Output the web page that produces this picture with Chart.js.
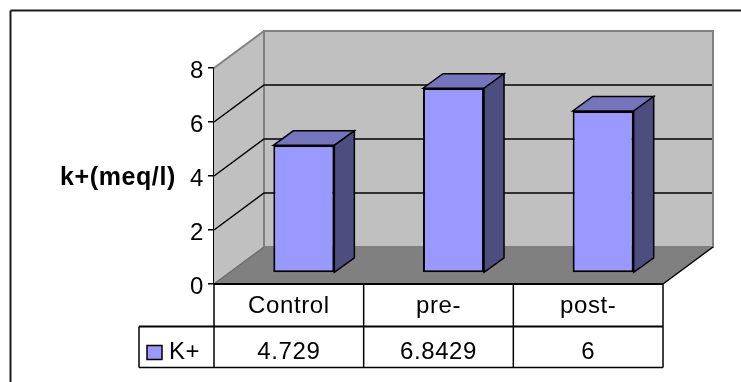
<!DOCTYPE html>
<html>
<head>
<meta charset="utf-8">
<style>
    html, body { margin: 0; padding: 0; background: #fff; overflow: hidden; }
    canvas { display: block; }
</style>
</head>
<body>
<canvas id="chartKalium" width="741" height="382"></canvas>
<script src="https://cdn.jsdelivr.net/npm/chart.js@4"></script>
<script>
const categories = ["Control", "pre-", "post-"];
const seriesName = "K+";
const kValues = [4.729, 6.8429, 6];
const yTicks = [0, 2, 4, 6, 8];
const yTitle = "k+(meq/l)";

const FONT = '"Liberation Sans", Arial, sans-serif';

// 3D box look: depth of the plot, and of the bars inside it
const depth = { x: 50, y: -37 };
const barShift = { x: 15, y: -11 };
const barDepth = { x: 20, y: -14.5 };

function poly(ctx, pts, fill, stroke, width) {
    ctx.beginPath();
    pts.forEach((p, i) => i ? ctx.lineTo(p[0], p[1]) : ctx.moveTo(p[0], p[1]));
    ctx.closePath();
    if (fill) { ctx.fillStyle = fill; ctx.fill(); }
    if (stroke) { ctx.strokeStyle = stroke; ctx.lineWidth = width; ctx.stroke(); }
}

function line(ctx, x1, y1, x2, y2, color, width) {
    ctx.beginPath();
    ctx.moveTo(x1, y1);
    ctx.lineTo(x2, y2);
    ctx.strokeStyle = color;
    ctx.lineWidth = width;
    ctx.stroke();
}

// Walls, floor and gridlines behind the bars
const walls = {
    id: "walls",
    beforeDraw(chart) {
        // text in this chart runs a little wide
        chart.ctx.letterSpacing = "0.6px";
    },
    beforeDatasetsDraw(chart) {
        const ctx = chart.ctx;
        const { left, right, top, bottom } = chart.chartArea;
        const dx = depth.x, dy = depth.y;
        ctx.save();
        poly(ctx, [[left, top], [left + dx, top + dy], [left + dx, bottom + dy], [left, bottom]], "#c0c0c0");
        poly(ctx, [[left + dx, top + dy], [right + dx, top + dy], [right + dx, bottom + dy], [left + dx, bottom + dy]], "#c0c0c0", "#808080", 2);
        poly(ctx, [[left, bottom], [left + dx, bottom + dy], [right + dx, bottom + dy], [right, bottom]], "#808080");
        line(ctx, left, top, left + dx, top + dy, "#808080", 2);
        line(ctx, left, bottom, left + dx, bottom + dy, "#6a6a6a", 1.5);
        yTicks.slice(1, -1).forEach(v => {
            const y = chart.scales.y.getPixelForValue(v);
            ctx.beginPath();
            ctx.moveTo(left, y);
            ctx.lineTo(left + dx, y + dy);
            ctx.lineTo(right + dx - 1, y + dy);
            ctx.strokeStyle = "#000";
            ctx.lineWidth = 1.5;
            ctx.stroke();
        });
        line(ctx, right, bottom, right + dx, bottom + dy, "#000", 1.5);
        ctx.restore();
    }
};

// Bars are moved into the box; top and side faces are added from each bar's element
const barBoxes = {
    id: "barBoxes",
    beforeDatasetDraw(chart) {
        chart.ctx.save();
        chart.ctx.translate(barShift.x, barShift.y);
    },
    afterDatasetDraw(chart, args) {
        const ctx = chart.ctx;
        const dx = barDepth.x, dy = barDepth.y;
        args.meta.data.forEach(bar => {
            const l = bar.x - bar.width / 2, r = bar.x + bar.width / 2;
            poly(ctx, [[l, bar.y], [l + dx, bar.y + dy], [r + dx, bar.y + dy], [r, bar.y]], "#7575bd", "#000", 1.5);
            poly(ctx, [[r, bar.y], [r + dx, bar.y + dy], [r + dx, bar.base + dy], [r, bar.base]], "#4d4d80", "#000", 1.5);
        });
        ctx.restore();
    }
};

// Data table under the plot, axis title and the outer frame
const dataTable = {
    id: "dataTable",
    afterDraw(chart) {
        const ctx = chart.ctx;
        const { left, right, bottom } = chart.chartArea;
        const row1 = bottom + 42.5, row2 = bottom + 83.5, legendLeft = left - 75;
        const xs = chart.scales.x;
        const colW = (right - left) / categories.length;
        ctx.save();
        line(ctx, left, bottom, right, bottom, "#000", 2);
        line(ctx, left, bottom, left, row2, "#000", 1.5);
        line(ctx, legendLeft, row1, right, row1, "#000", 2);
        line(ctx, legendLeft, row2, right, row2, "#000", 1.5);
        line(ctx, legendLeft, row1, legendLeft, row2, "#000", 1.5);
        categories.forEach((c, i) => {
            const x = left + colW * (i + 1);
            line(ctx, x, bottom, x, row2, "#000", 1.5);
        });
        poly(ctx, [[147, row1 + 19], [162, row1 + 19], [162, row1 + 33], [147, row1 + 33]], "#9999ff", "#000", 1.5);
        ctx.fillStyle = "#000";
        ctx.font = "24px " + FONT;
        ctx.textBaseline = "middle";
        ctx.textAlign = "center";
        kValues.forEach((v, i) => {
            ctx.fillText(String(v), xs.getPixelForValue(i), row1 + 26);
        });
        ctx.textAlign = "left";
        ctx.fillText(seriesName, legendLeft + 30, row1 + 26);

        ctx.font = "bold 25px " + FONT;
        ctx.fillText(yTitle, 60, 178);

        line(ctx, 10.5, 10.5, 10.5, 382, "#1a1a1a", 2);
        line(ctx, 10.5, 10.5, 741, 10.5, "#1a1a1a", 2);
        ctx.restore();
    }
};

new Chart(document.getElementById("chartKalium"), {
    type: "bar",
    data: {
        labels: categories,
        datasets: [{
            label: seriesName,
            data: kValues,
            backgroundColor: "#9999ff",
            borderColor: "#000",
            borderWidth: 2,
            borderSkipped: false,
            categoryPercentage: 1,
            barPercentage: 0.408
        }]
    },
    options: {
        responsive: false,
        animation: false,
        layout: { padding: { left: 0, top: 68, right: 78, bottom: 56 } },
        plugins: { legend: { display: false }, tooltip: { enabled: false } },
        scales: {
            x: {
                afterFit(scale) { scale.height = 42; },
                grid: { display: false },
                border: { display: false },
                ticks: { color: "#000", font: { family: FONT, size: 24 }, padding: 0, maxRotation: 0 }
            },
            y: {
                min: 0,
                max: yTicks[yTicks.length - 1],
                afterFit(scale) { scale.width = 214; },
                afterBuildTicks(scale) { scale.ticks = yTicks.map(v => ({ value: v })); },
                grid: { drawOnChartArea: false, color: "#000", lineWidth: 1.5, tickLength: 6 },
                border: { color: "#000", width: 1.5 },
                ticks: { color: "#000", font: { family: FONT, size: 24 }, padding: 4, labelOffset: 3 }
            }
        }
    },
    plugins: [walls, barBoxes, dataTable]
});
</script>
</body>
</html>
